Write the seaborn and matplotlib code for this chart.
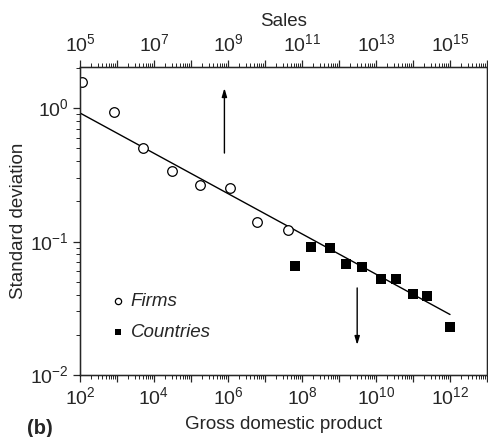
import numpy as np
import pandas as pd
import matplotlib
matplotlib.use("Agg")
import matplotlib.pyplot as plt
import matplotlib.ticker as mticker
import seaborn as sns

# data (log-log)
firm_gdp = [1.1e2, 8.1e2, 5.0e3, 3.0e4, 1.7e5, 1.1e6, 6.2e6, 4.1e7]
firm_sd = [1.56, 0.94, 0.50, 0.34, 0.267, 0.253, 0.141, 0.123]
country_gdp = [6.5e7, 1.8e8, 5.6e8, 1.55e9, 4.3e9, 1.38e10, 3.5e10, 9.8e10, 2.45e11, 9.8e11]
country_sd = [0.065, 0.091, 0.090, 0.068, 0.064, 0.0526, 0.0524, 0.0402, 0.0393, 0.023]
fit_gdp = [1e2, 1e12]
fit_sd = [0.918, 0.0284]
up_arrow_x = 8e5
down_arrow_x = 3.1e9

sns.set_style("ticks")
plt.rcParams['font.family'] = ['Liberation Sans', 'DejaVu Sans']
plt.rcParams['mathtext.fontset'] = 'custom'
plt.rcParams['mathtext.rm'] = 'Liberation Sans'
fs = 13.5
tfs = 14

fig = plt.figure(figsize=(4.88, 4.37), dpi=100)
ax = fig.add_axes([80 / 488, 1 - 375 / 437, 407 / 488, 308 / 437])

firms = pd.DataFrame({"gdp": firm_gdp, "sd": firm_sd})
countries = pd.DataFrame({"gdp": country_gdp, "sd": country_sd})
fit = pd.DataFrame({"gdp": fit_gdp, "sd": fit_sd})

sns.lineplot(data=fit, x="gdp", y="sd", color="black", lw=1.0, ax=ax)
sns.scatterplot(data=firms, x="gdp", y="sd", marker="o", s=48, facecolor="white",
                edgecolor="black", linewidth=0.9, ax=ax, label="Firms", zorder=3)
sns.scatterplot(data=countries, x="gdp", y="sd", marker="s", s=52, color="black",
                edgecolor="black", linewidth=0, ax=ax, label="Countries", zorder=3)

ax.set_xscale("log")
ax.set_yscale("log")
ax.set_xlim(1e2, 1e13)
ax.set_ylim(1e-2, 2.03)

def decade_fmt(start):
    def f(v, pos):
        e = int(round(np.log10(v)))
        return r"$10^{%d}$" % e if (e - start) % 2 == 0 else ""
    return f

ax.xaxis.set_major_locator(mticker.LogLocator(base=10, numticks=20))
ax.xaxis.set_major_formatter(mticker.FuncFormatter(decade_fmt(2)))
ax.xaxis.set_minor_locator(mticker.LogLocator(base=10, subs=np.arange(2, 10), numticks=20))
ax.xaxis.set_minor_formatter(mticker.NullFormatter())
ax.yaxis.set_major_locator(mticker.LogLocator(base=10, numticks=10))
ax.yaxis.set_minor_locator(mticker.LogLocator(base=10, subs=np.arange(2, 10), numticks=10))
ax.yaxis.set_minor_formatter(mticker.NullFormatter())
ax.yaxis.set_major_formatter(mticker.FuncFormatter(lambda v, p: r"$10^{%d}$" % int(round(np.log10(v)))))

ax.tick_params(which="major", direction="out", length=5, width=0.9, labelsize=tfs, pad=3)
ax.tick_params(which="minor", direction="out", length=3, width=0.7)
for s in ax.spines.values():
    s.set_linewidth(1.0)
    s.set_color("black")

ax.set_xlabel("Gross domestic product", fontsize=fs, labelpad=5)
ax.set_ylabel("Standard deviation", fontsize=fs, labelpad=2)

# top axis: sales
ax2 = ax.twiny()
ax2.set_xscale("log")
ax2.set_xlim(1e5, 1e16)
ax2.xaxis.set_major_locator(mticker.LogLocator(base=10, numticks=20))
ax2.xaxis.set_major_formatter(mticker.FuncFormatter(decade_fmt(5)))
ax2.xaxis.set_minor_locator(mticker.LogLocator(base=10, subs=np.arange(2, 10), numticks=20))
ax2.xaxis.set_minor_formatter(mticker.NullFormatter())
ax2.tick_params(which="major", direction="out", length=5, width=0.9, labelsize=tfs, pad=3)
ax2.tick_params(which="minor", direction="out", length=3, width=0.7)
ax2.set_xlabel("Sales", fontsize=fs, labelpad=5)

# arrows
ax.annotate("", xy=(up_arrow_x, 1.41), xytext=(up_arrow_x, 0.46),
            arrowprops=dict(arrowstyle="-|>,head_length=0.5,head_width=0.15",
                            color="black", lw=1.0, shrinkA=0, shrinkB=0))
ax.annotate("", xy=(down_arrow_x, 0.0168), xytext=(down_arrow_x, 0.0449),
            arrowprops=dict(arrowstyle="-|>,head_length=0.5,head_width=0.15",
                            color="black", lw=1.0, shrinkA=0, shrinkB=0))

leg = ax.legend(loc="lower left", bbox_to_anchor=(0.03, 0.055), frameon=False,
                markerscale=0.65, handletextpad=0.15, handlelength=1.0,
                labelspacing=0.75, prop={"size": fs, "style": "italic"})

fig.text(27 / 488, 1 - 428 / 437, "(b)", fontsize=14.5, fontweight="bold", va="center")

plt.savefig("out.png", dpi=100)
